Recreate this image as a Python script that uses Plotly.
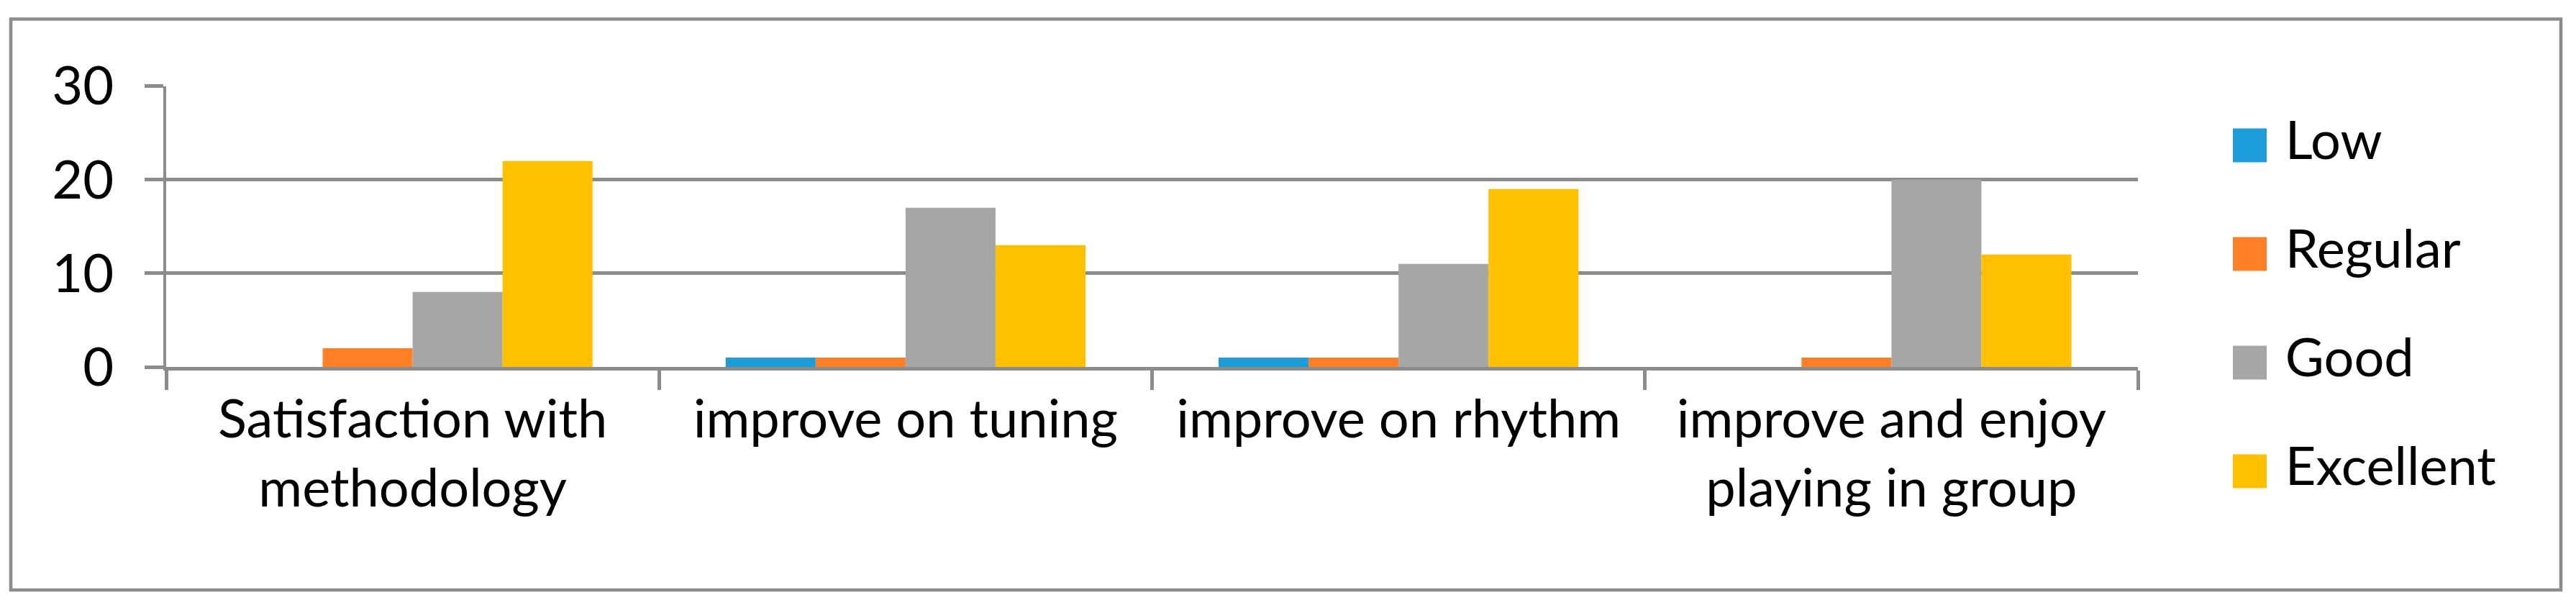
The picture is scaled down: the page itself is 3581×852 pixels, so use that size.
import plotly.graph_objects as go

categories = ["Satisfaction with<br>methodology", "improve on tuning",
              "improve on rhythm", "improve and enjoy<br>playing in group"]
series_names = ["Low", "Regular", "Good", "Excellent"]
low = [0, 1, 1, 0]
regular = [2, 1, 1, 1]
good = [8, 17, 11, 20]
excellent = [22, 13, 19, 12]
y_ticks = [0, 10, 20, 30]

colors = ["#1C9CD8", "#FF7F27", "#A6A6A6", "#FFC000"]
grey = "#8C8C8C"
font = "Lato, 'Open Sans', sans-serif"

# the page body adds an 8px margin, so work in page pixels and shift back
OFF = 8
W, H = 3581 - 2 * OFF, 852 - 2 * OFF
ml = 231 - OFF
mt = 18
pr, pb = 3560 - OFF, 820 - OFF          # paper right / bottom in figure px
mr, mb = W - pr, H - pb
pw, ph = pr - ml, pb - mt


def px(x):
    return (x - OFF - ml) / pw


def py(y):
    return (pb - (y - OFF)) / ph


fig = go.Figure()
for name, vals, col in zip(series_names, [low, regular, good, excellent], colors):
    fig.add_trace(go.Bar(x=categories, y=vals, name=name, marker_color=col,
                         marker_line_width=0, showlegend=False))

# legend drawn as a small scatter panel so the swatches can be as large as the original
fig.add_trace(go.Scatter(
    x=[0] * len(series_names), y=list(range(len(series_names)))[::-1],
    mode="markers+text", text=["\u00a0" + s for s in series_names],
    textposition="middle right",
    textfont=dict(family=font, size=74, color="black"),
    marker=dict(symbol="square", size=47, color=colors, line_width=0),
    xaxis="x2", yaxis="y2", cliponaxis=False, showlegend=False, hoverinfo="skip"))

fig.update_layout(
    width=W, height=H,
    margin=dict(l=ml, r=mr, t=mt, b=mb, autoexpand=False),
    showlegend=False,
    paper_bgcolor="white", plot_bgcolor="white",
    font=dict(family=font, size=74, color="black"),
    barmode="group", bargap=0.27, bargroupgap=0,
    xaxis=dict(domain=[0, px(2972)], showline=True, linecolor=grey, linewidth=5,
               ticks="outside", tickson="boundaries", ticklen=27, tickwidth=5,
               tickcolor=grey, showgrid=False, tickfont=dict(size=74),
               ticklabelstandoff=4, automargin=False, fixedrange=True),
    yaxis=dict(domain=[py(510), py(119.5)], range=[0, 30], tickvals=y_ticks,
               showline=True, linecolor=grey, linewidth=4, zeroline=False,
               showgrid=True, gridcolor=grey, gridwidth=5,
               ticks="outside", ticklen=26, tickwidth=5, tickcolor=grey,
               tickfont=dict(size=74), ticklabelstandoff=28,
               automargin=False, fixedrange=True),
    xaxis2=dict(domain=[px(3060), 1], range=[-0.135, 0.865], visible=False),
    yaxis2=dict(domain=[py(655), py(202)], range=[0, 3], visible=False,
                anchor="x2"),
    shapes=[dict(type="rect", xref="paper", yref="paper",
                 x0=px(15), x1=px(3560), y0=py(820), y1=py(26.5),
                 line=dict(color=grey, width=4.5), fillcolor="rgba(0,0,0,0)")],
)

fig.write_html("out.html")
